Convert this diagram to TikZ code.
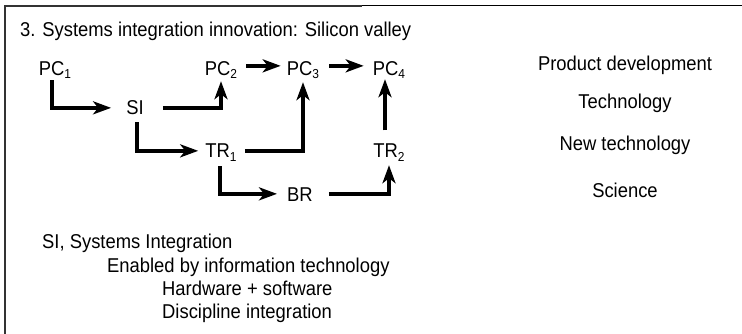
\documentclass[tikz,border=0pt]{standalone}
\usepackage{fontspec}
\setmainfont{Liberation Sans}[FakeStretch=0.92]
\usetikzlibrary{arrows.meta}
% lowered index for the node labels
\newcommand{\lowidx}[1]{\raisebox{-3pt}{\fontsize{13}{13}\selectfont #1}}

\begin{document}
\begin{tikzpicture}[x=1pt,y=-1pt,
  txt/.style={font=\fontsize{20}{24}\selectfont, inner sep=0pt, anchor=base},
  item/.style={font=\fontsize{20}{24}\selectfont, inner sep=0pt,
    text height=14.3pt, text depth=0pt, anchor=base},
  note/.style={font=\fontsize{20}{24}\selectfont, inner sep=0pt, anchor=base west},
  flow/.style={line width=3.8pt, -{Stealth[length=18pt,width=13pt,inset=5pt]}},
  rule/.style={line width=1.6pt},
]
\useasboundingbox (0,0) rectangle (742,334);
% open frame: left side and top edge (the top edge has a small step)
\draw[rule, black!80] (4.8,334) -- (4.8,6) -- (362,6);
\draw[rule, line width=1.3pt] (362,5.3) -- (742,5.3);

% title
\node[txt, anchor=base west] (title) at (20,37) {3. Systems integration innovation: Silicon valley};

% nodes of the innovation chain
\node[item] (PC1) at (55,76)  {PC\lowidx{1}};
\node[item] (SI)  at (135,115) {SI};
\node[item] (PC2) at (221,76) {PC\lowidx{2}};
\node[item] (PC3) at (303,76) {PC\lowidx{3}};
\node[item] (PC4) at (389,76) {PC\lowidx{4}};
\node[item] (TR1) at (221,158) {TR\lowidx{1}};
\node[item] (TR2) at (389,158) {TR\lowidx{2}};
\node[item] (BR)  at (300,201) {BR};

% level labels
\node[txt] (lvl1) at (625,71)  {Product development};
\node[txt] (lvl2) at (625,109) {Technology};
\node[txt] (lvl3) at (625,151) {New technology};
\node[txt] (lvl4) at (625,197) {Science};

% connectors
\draw[flow] ([xshift=-3pt,yshift=-4pt]PC1.south) |- ([xshift=-15pt]SI.west);
\draw[flow] ([xshift=19pt]SI.east) -| ([yshift=-5pt]PC2.south);
\draw[flow] ([xshift=2pt,yshift=-7pt]SI.south) |- ([xshift=-7pt]TR1.west);
\draw[flow] ([xshift=8pt]TR1.east) -| ([yshift=-6pt]PC3.south);
\draw[flow] ([xshift=-1pt,yshift=-8pt]TR1.south) |- ([xshift=-10pt]BR.west);
\draw[flow] ([xshift=16pt]BR.east) -| ([yshift=-7pt]TR2.south);
\draw[flow] ([xshift=-4pt,yshift=13pt]TR2.north) -- ([xshift=-4pt,yshift=-3pt]PC4.south);
\draw[flow] ([xshift=9pt,yshift=3pt]PC2.east) -- ([xshift=-6pt,yshift=3pt]PC3.west);
\draw[flow] ([xshift=10pt,yshift=3pt]PC3.east) -- ([xshift=-9pt,yshift=3pt]PC4.west);

% notes
\node[note] (n1) at (42,248)  {SI, Systems Integration};
\node[note] (n2) at (107,272) {Enabled by information technology};
\node[note] (n3) at (162,295) {Hardware + software};
\node[note] (n4) at (162,318) {Discipline integration};
\end{tikzpicture}
\end{document}
